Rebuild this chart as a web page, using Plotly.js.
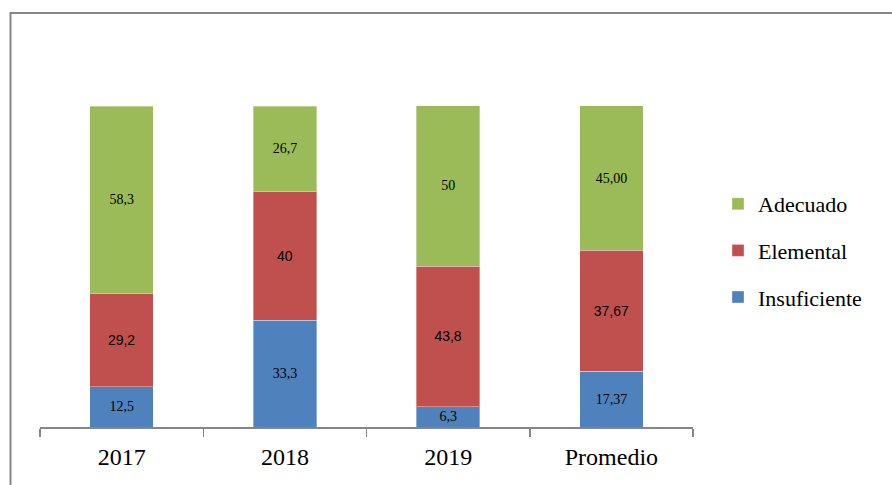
<!DOCTYPE html>
<html>
<head>
<meta charset="utf-8">
<script src="https://cdn.plot.ly/plotly-3.0.1.min.js"></script>
<style>
html,body{margin:0;padding:0;background:#fff;}
#chart{width:892px;height:485px;}
</style>
</head>
<body>
<div id="chart"></div>
<script>
const categories = ["2017", "2018", "2019", "Promedio"];
const insuficiente = [12.5, 33.3, 6.3, 17.37];
const elemental = [29.2, 40, 43.8, 37.67];
const adecuado = [58.3, 26.7, 50, 45.00];
const insuficienteLabels = ["12,5", "33,3", "6,3", "17,37"];
const elementalLabels = ["29,2", "40", "43,8", "37,67"];
const adecuadoLabels = ["58,3", "26,7", "50", "45,00"];

const serif = "Liberation Serif";
const sans = "Liberation Sans";

function barTrace(name, vals, labels, color, font, rank) {
  return {
    type: "bar",
    name: name,
    x: categories,
    y: vals,
    text: labels,
    textposition: "inside",
    insidetextanchor: "middle",
    textangle: 0,
    constraintext: "none",
    textfont: {family: font, size: 14, color: "#000"},
    marker: {color: color, line: {color: "rgba(255,255,255,0.35)", width: 1}},
    width: 0.39,
    hoverinfo: "skip",
    legendgroup: name,
    legendrank: rank
  };
}

const data = [
  barTrace("Insuficiente", insuficiente, insuficienteLabels, "#4F81BD", serif, 3),
  barTrace("Elemental", elemental, elementalLabels, "#C0504D", sans, 2),
  barTrace("Adecuado", adecuado, adecuadoLabels, "#9BBB59", serif, 1)
];

const layout = {
  width: 892,
  height: 485,
  margin: {l: 40, r: 199, t: 106, b: 58},
  paper_bgcolor: "#fff",
  plot_bgcolor: "#fff",
  barmode: "stack",
  showlegend: true,
  legend: {
    x: (718 - 40) / 653,
    xanchor: "left",
    y: (427 - 183) / 321,
    yanchor: "top",
    font: {family: serif, size: 22, color: "#000"},
    bgcolor: "rgba(0,0,0,0)",
    traceorder: "grouped",
    tracegroupgap: 15
  },
  xaxis: {
    type: "category",
    showline: true,
    linecolor: "#868686",
    linewidth: 1.5,
    ticks: "outside",
    tickson: "boundaries",
    ticklen: 8,
    tickcolor: "#868686",
    tickwidth: 1.5,
    tickfont: {family: serif, size: 24, color: "#000"},
    ticklabelstandoff: 8,
    showgrid: false,
    zeroline: false,
    fixedrange: true
  },
  yaxis: {
    range: [0, 100],
    visible: false,
    showgrid: false,
    zeroline: false,
    fixedrange: true
  },
  shapes: [{
    type: "rect",
    xref: "paper", yref: "paper",
    x0: (10.5 - 40) / 653, x1: 2,
    y0: -1, y1: (427 - 13) / 321,
    line: {color: "#868686", width: 2},
    fillcolor: "rgba(0,0,0,0)",
    layer: "below"
  }]
};

Plotly.newPlot("chart", data, layout, {displayModeBar: false, staticPlot: true});
</script>
</body>
</html>
